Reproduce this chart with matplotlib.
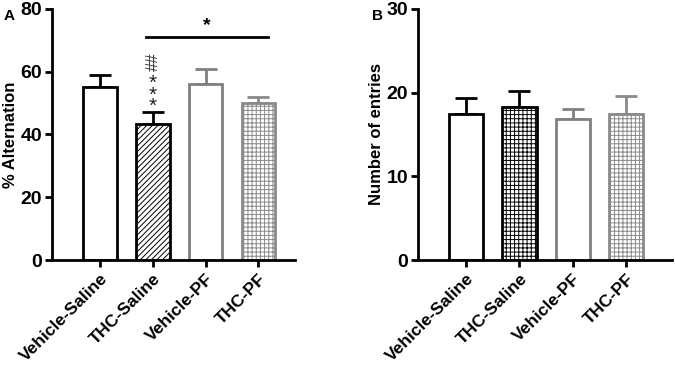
import matplotlib.pyplot as plt

plt.rcParams['font.family'] = ['Liberation Sans', 'DejaVu Sans']
plt.rcParams['font.weight'] = 'bold'
plt.rcParams['hatch.linewidth'] = 0.7

groups = ['Vehicle-Saline', 'THC-Saline', 'Vehicle-PF', 'THC-PF']
alternation = [55.0, 43.3, 56.0, 50.0]
alternation_err = [4.0, 3.9, 4.8, 2.0]
entries = [17.5, 18.3, 16.9, 17.5]
entries_err = [1.9, 1.9, 1.2, 2.1]

edge_colors = ['black', 'black', '#808080', '#8a8a8a']
hatches_a = [None, '//////', None, '++++']
hatches_b = [None, '++++', None, '++++']

fig = plt.figure(figsize=(6.75, 3.7), dpi=100)
ax_a = fig.add_axes([0.077, 0.297, 0.36, 0.679])
ax_b = fig.add_axes([0.619, 0.297, 0.377, 0.679])


def draw_panel(ax, values, errs, hatches, ylim, yticks, ylabel, xlim):
    x = range(len(groups))
    for i in x:
        ax.bar(i, values[i], 0.64, color='white', edgecolor=edge_colors[i],
               linewidth=2, hatch=hatches[i], zorder=2)
        ax.errorbar(i, values[i], yerr=[[0], [errs[i]]], color=edge_colors[i],
                    capsize=8, capthick=2, elinewidth=2, zorder=1)
    ax.set_xlim(*xlim)
    ax.set_ylim(*ylim)
    ax.set_yticks(yticks)
    ax.set_xticks(list(x))
    ax.set_xticklabels(groups, rotation=45, ha='right', rotation_mode='anchor',
                       fontsize=12.5, fontweight='bold')
    ax.tick_params(axis='y', labelsize=14, width=2, length=5, pad=2)
    ax.tick_params(axis='x', width=2, length=5, pad=3)
    for s in ['top', 'right']:
        ax.spines[s].set_visible(False)
    for s in ['left', 'bottom']:
        ax.spines[s].set_linewidth(2)
    ax.set_ylabel(ylabel, fontsize=12, fontweight='bold', labelpad=2)


draw_panel(ax_a, alternation, alternation_err, hatches_a, (0, 80),
           [0, 20, 40, 60, 80], '% Alternation', (-0.9, 3.69))
draw_panel(ax_b, entries, entries_err, hatches_b, (0, 30),
           [0, 10, 20, 30], 'Number of entries', (-0.9, 3.86))

# significance marks
ax_a.plot([0.88, 3.18], [71, 71], color='black', lw=2, clip_on=False)
ax_a.text(2.03, 72, '*', ha='center', va='bottom', fontsize=14)
ax_a.text(1.0, 45.8, '*\n*\n*', ha='center', va='bottom', fontsize=15,
          linespacing=0.5, fontweight='normal', color='#222222')
ax_a.text(1.02, 60.3, '##', rotation=90, ha='center', va='bottom', fontsize=12,
          fontweight='normal', color='#333333')

fig.text(0.005, 0.975, 'A', fontsize=11, fontweight='bold', va='top')
fig.text(0.551, 0.975, 'B', fontsize=11, fontweight='bold', va='top')

fig.savefig('out.png', dpi=100)
